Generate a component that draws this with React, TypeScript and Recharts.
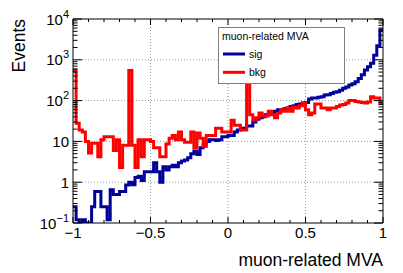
import { ComposedChart, Line, XAxis, YAxis, ReferenceLine, Legend } from "recharts"

const nBins = 100
const xMin = -1
const xMax = 1

// bin contents (log scale, so these are estimates)
const sig = [
  0.25, 0.12, 0.1, 0.12, 0.1, 0.1, 0.25, 0.59, 0.59, 0.25,
  0.25, 0.12, 0.65, 0.5, 0.5, 0.59, 0.59, 0.85, 1.0, 0.87,
  1.3, 1.4, 1.1, 1.8, 1.8, 1.8, 3.0, 1.8, 1.0, 2.4,
  2.0, 2.4, 2.6, 2.4, 3.0, 3.3, 3.5, 4.0, 5.0, 5.8,
  4.8, 7, 8.6, 10, 11, 11, 10.5, 11, 13, 13,
  14, 14, 17, 19, 21, 20, 24, 24, 30, 35,
  38, 40, 45, 47, 50, 55, 60, 60, 63, 66,
  72, 75, 80, 82, 87, 90, 110, 115, 115, 120,
  125, 137, 140, 150, 160, 165, 180, 200, 215, 240,
  260, 290, 350, 430, 560, 680, 820, 1300, 2200, 5400,
]

const bkg = [
  550, 28, 19, 17, 10, 5.2, 9, 9, 4.2, 11,
  13, 13, 13, 6, 11, 2.3, 8, 8, 550, 8,
  2.3, 11, 4.2, 11, 11, 10, 7, 7, 4.2, 4.2,
  8.6, 12, 14, 11, 17, 11, 9.5, 9.5, 17, 7,
  16, 12, 7.5, 14, 14, 14, 21, 21, 17, 17,
  17, 33, 25, 25, 19, 19, 290, 45, 33, 38,
  50, 42, 42, 55, 45, 38, 50, 60, 55, 66,
  55, 70, 66, 75, 87, 60, 45, 50, 83, 83,
  66, 66, 60, 66, 66, 72, 78, 80, 87, 100,
  100, 95, 92, 90, 87, 92, 125, 115, 115, 87,
]

const seriesOrder = ["sig", "bkg"]
const xTicks = [-1, -0.9, -0.8, -0.7, -0.6, -0.5, -0.4, -0.3, -0.2, -0.1, 0, 0.1, 0.2, 0.3, 0.4, 0.5, 0.6, 0.7, 0.8, 0.9, 1]
const xMajor = [-1, -0.5, 0, 0.5, 1]
const xLabels = ["\u22121", "\u22120.5", "0", "0.5", "1"]
const yMajor = [0.1, 1, 10, 100, 1000, 10000]
const yLabels = [["10", "\u22121"], ["1", ""], ["10", ""], ["10", "2"], ["10", "3"], ["10", "4"]]
const yTicks = [
  0.1, 0.2, 0.3, 0.4, 0.5, 0.6, 0.7, 0.8, 0.9,
  1, 2, 3, 4, 5, 6, 7, 8, 9,
  10, 20, 30, 40, 50, 60, 70, 80, 90,
  100, 200, 300, 400, 500, 600, 700, 800, 900,
  1000, 2000, 3000, 4000, 5000, 6000, 7000, 8000, 9000,
  10000,
]
const xGrid = [-0.5, 0, 0.5]
const yGrid = [1, 10, 100, 1000]

const width = (xMax - xMin) / nBins
const data = Array.from({ length: nBins + 1 }, (_, i) => ({
  x: +(xMin + i * width).toFixed(4),
  sig: sig[Math.min(i, nBins - 1)],
  bkg: bkg[Math.min(i, nBins - 1)],
}))

const font = "'Liberation Sans', Arial, Helvetica, sans-serif"
const SIG = "#00009a"
const BKG = "#ff0000"

function XTick(props: any) {
  const { x, y, payload, side } = props
  const v = payload.value
  const idx = xMajor.findIndex((m) => Math.abs(m - v) < 1e-9)
  const len = idx >= 0 ? 6 : 3
  const dir = side === "top" ? 1 : -1
  return (
    <g>
      <line x1={x} x2={x} y1={y} y2={y + dir * len} stroke="#000" strokeWidth={1} />
      {side !== "top" && idx >= 0 && (
        <text x={x} y={y + 15} textAnchor="middle" fontSize={15} fontFamily={font} fill="#000">
          {xLabels[idx]}
        </text>
      )}
    </g>
  )
}

function YTick(props: any) {
  const { x, y, payload, side } = props
  const v = payload.value
  const idx = yMajor.findIndex((m) => Math.abs(m - v) < 1e-9)
  const len = idx >= 0 ? 9 : 4.5
  const dir = side === "right" ? -1 : 1
  return (
    <g>
      <line x1={x} x2={x + dir * len} y1={y} y2={y} stroke="#000" strokeWidth={1} />
      {side !== "right" && idx >= 0 && (
        <text x={x - 4} y={y + 5.5} textAnchor="end" fontSize={15} fontFamily={font} fill="#000">
          {yLabels[idx][0]}
          {yLabels[idx][1] && (
            <tspan fontSize={11} dy={-7}>
              {yLabels[idx][1]}
            </tspan>
          )}
        </text>
      )}
    </g>
  )
}

function LegendBox(props: any) {
  const items = [...(props.payload || [])].sort(
    (a: any, b: any) => seriesOrder.indexOf(a.value) - seriesOrder.indexOf(b.value)
  )
  return (
    <svg width={127} height={57} style={{ display: "block" }}>
      <rect x={0.5} y={0.5} width={126} height={56} fill="#fff" stroke="#808080" strokeWidth={1} />
      <text x={4} y={13} fontSize={10.5} fontFamily={font} fill="#000">
        muon-related MVA
      </text>
      {items.map((it: any, i: number) => (
        <g key={it.value}>
          <line x1={5} x2={27} y1={27 + i * 18.3} y2={27 + i * 18.3} stroke={it.color} strokeWidth={3} />
          <text x={31} y={31 + i * 18.3} fontSize={10.5} fontFamily={font} fill="#000">
            {it.value}
          </text>
        </g>
      ))}
    </svg>
  )
}

export default function App() {
  return (
    <div style={{ position: "absolute", left: 0, top: 0, width: 403, height: 273, background: "#fff" }}>
      <ComposedChart width={403} height={273} data={data} margin={{ top: 18, right: 19, bottom: 49, left: 0 }}>
        <XAxis
          xAxisId="x"
          dataKey="x"
          type="number"
          domain={[xMin, xMax]}
          allowDataOverflow
          ticks={xTicks}
          interval={0}
          height={1}
          tickSize={0}
          tickMargin={0}
          tickLine={false}
          axisLine={{ stroke: "#000" }}
          tick={<XTick side="bottom" />}
          label={{
            content: (p: any) => {
              const vb = p.viewBox || { x: 73, y: 223, width: 310 }
              return (
                <text x={vb.x + vb.width} y={vb.y + 43} textAnchor="end" fontSize={17.5} fontFamily={font} fill="#000">
                  muon-related MVA
                </text>
              )
            },
          }}
        />
        <XAxis
          xAxisId="top"
          orientation="top"
          dataKey="x"
          type="number"
          domain={[xMin, xMax]}
          allowDataOverflow
          ticks={xTicks}
          interval={0}
          height={1}
          tickSize={0}
          tickMargin={0}
          tickLine={false}
          axisLine={{ stroke: "#000" }}
          tick={<XTick side="top" />}
        />
        <YAxis
          yAxisId="y"
          type="number"
          scale="log"
          domain={[0.1, 10000]}
          allowDataOverflow
          ticks={yTicks}
          interval={0}
          width={73}
          tickSize={0}
          tickMargin={0}
          tickLine={false}
          axisLine={{ stroke: "#000" }}
          tick={<YTick side="left" />}
          label={{
            content: (p: any) => {
              const vb = p.viewBox || { x: 0, y: 19 }
              const tx = vb.x + 24.5
              const ty = vb.y
              return (
                <text
                  x={tx}
                  y={ty}
                  transform={`rotate(-90 ${tx} ${ty})`}
                  textAnchor="end"
                  fontSize={17.5}
                  fontFamily={font}
                  fill="#000"
                >
                  Events
                </text>
              )
            },
          }}
        />
        <YAxis
          yAxisId="right"
          orientation="right"
          type="number"
          scale="log"
          domain={[0.1, 10000]}
          allowDataOverflow
          ticks={yTicks}
          interval={0}
          width={1}
          tickSize={0}
          tickMargin={0}
          tickLine={false}
          axisLine={{ stroke: "#000" }}
          tick={<YTick side="right" />}
        />
        {xGrid.map((v) => (
          <ReferenceLine key={"gx" + v} xAxisId="x" yAxisId="y" x={v} stroke="#999" strokeDasharray="1 2" />
        ))}
        {yGrid.map((v) => (
          <ReferenceLine key={"gy" + v} xAxisId="x" yAxisId="y" y={v} stroke="#999" strokeDasharray="1 2" />
        ))}
        <Line
          xAxisId="x"
          yAxisId="y"
          type="stepAfter"
          dataKey="sig"
          name="sig"
          stroke={SIG}
          strokeWidth={3}
          dot={false}
          isAnimationActive={false}
        />
        <Line
          xAxisId="x"
          yAxisId="y"
          type="stepAfter"
          dataKey="bkg"
          name="bkg"
          stroke={BKG}
          strokeWidth={3}
          dot={false}
          isAnimationActive={false}
        />
        <Legend
          layout="vertical"
          verticalAlign="middle"
          align="center"
          wrapperStyle={{ position: "absolute", left: 218, top: 27, width: 127, height: 57 }}
          content={<LegendBox />}
        />
      </ComposedChart>
    </div>
  )
}
